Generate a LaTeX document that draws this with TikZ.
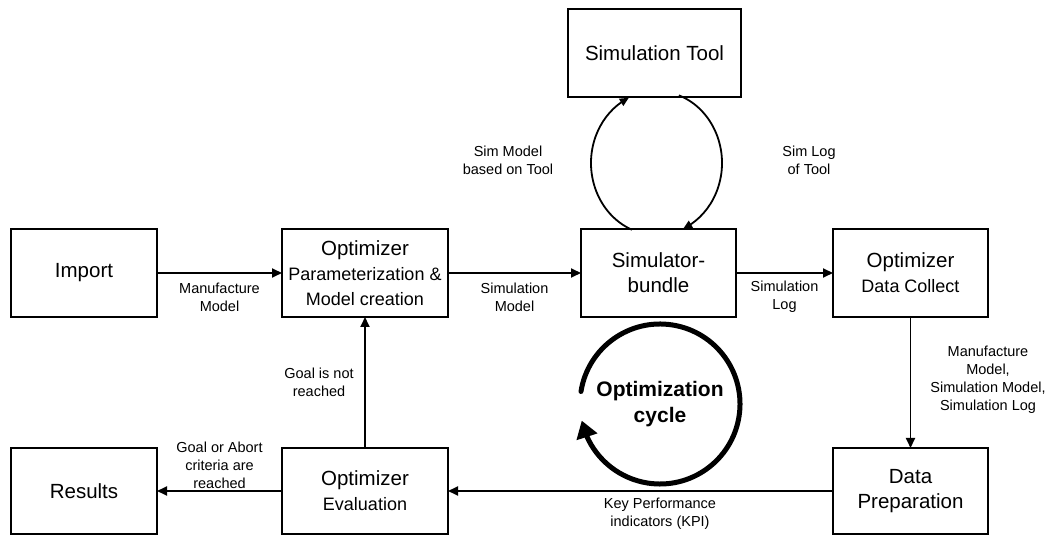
\documentclass[tikz,border=0pt]{standalone}
\usepackage{fontspec}
\setmainfont{Liberation Sans}
\usetikzlibrary{arrows.meta,bending}
\newcommand\mysub{\fontsize{18}{25}\selectfont}
\begin{document}
\begin{tikzpicture}[x=1pt,y=1pt,
  box/.style={draw, line width=2.2pt, fill=white, inner sep=0pt, outer sep=0pt,
    align=center, minimum height=88pt, font=\fontsize{20.5}{25}\selectfont},
  arr/.style={line width=1.8pt, -{Triangle[length=10pt,width=9pt]}},
  looparr/.style={line width=1.8pt, -{Triangle[length=9pt,width=8pt]}},
  lbl/.style={font=\fontsize{14.5}{18}\selectfont, align=center, inner sep=0pt}]
\useasboundingbox (0,0) rectangle (1054,535);

% boxes
\node[box, minimum width=146pt] (import) at (84,262) {Import};
\node[box, minimum width=166pt] (param) at (365,262) {Optimizer\\{\mysub Parameterization \&}\\{\mysub Model creation}};
\node[box, minimum width=155pt] (bundle) at (658.5,262) {Simulator-\\bundle};
\node[box, minimum width=155pt] (collect) at (910.5,262) {Optimizer\\{\mysub Data Collect}};
\node[box, minimum width=173pt] (tool) at (654.5,482) {Simulation Tool};
\node[box, minimum width=146pt, minimum height=86pt] (results) at (84,44) {Results};
\node[box, minimum width=166pt, minimum height=86pt] (eval) at (365,44) {Optimizer\\{\mysub Evaluation}};
\node[box, minimum width=155pt, minimum height=86pt] (prep) at (910.5,44) {Data\\Preparation};

% connectors
\draw[arr] (import) -- (param);
\draw[arr] (param) -- (bundle);
\draw[arr] (bundle) -- (collect);
\draw[arr] (collect) -- (prep);
\draw[arr] (prep) -- (eval);
\draw[arr] (eval) -- (results);
\draw[arr] (eval) -- (param);

% loop between bundle and tool
\coordinate (loopc) at (656.5,372);
\draw[looparr] ([shift={(248:65.5pt and 72pt)}]loopc) arc[start angle=248, end angle=115, x radius=65.5pt, y radius=72pt];
\draw[looparr] ([shift={(70:65.5pt and 72pt)}]loopc) arc[start angle=70, end angle=-66, x radius=65.5pt, y radius=72pt];

% optimization cycle
\coordinate (cyc) at (660,131);
\draw[line width=5pt, line cap=round, -{Triangle[length=17pt,width=21pt]}] ([shift={(171:80pt)}]cyc) arc[start angle=171, end angle=-168, radius=80pt];
\node[font=\bfseries\fontsize{21}{26}\selectfont, align=center] (cyclbl) at (cyc) {Optimization\\cycle};

% labels
\node[lbl] (l1) at (219.5,238) {Manufacture\\Model};
\node[lbl] (l2) at (514.5,238) {Simulation\\Model};
\node[lbl] (l3) at (784.5,238) {Simulation\\Log};
\node[lbl] (l4) at (508,375) {Sim Model\\based on Tool};
\node[lbl] (l5) at (809,375) {Sim Log\\of Tool};
\node[lbl] (l6) at (988,155) {Manufacture\\Model,\\Simulation Model,\\Simulation Log};
\node[lbl] (l7) at (319,153) {Goal is not\\reached};
\node[lbl] (l8) at (219.5,70) {Goal or Abort\\criteria are\\reached};
\node[lbl] (l9) at (660,21.5) {Key Performance\\indicators (KPI)};
\end{tikzpicture}
\end{document}
